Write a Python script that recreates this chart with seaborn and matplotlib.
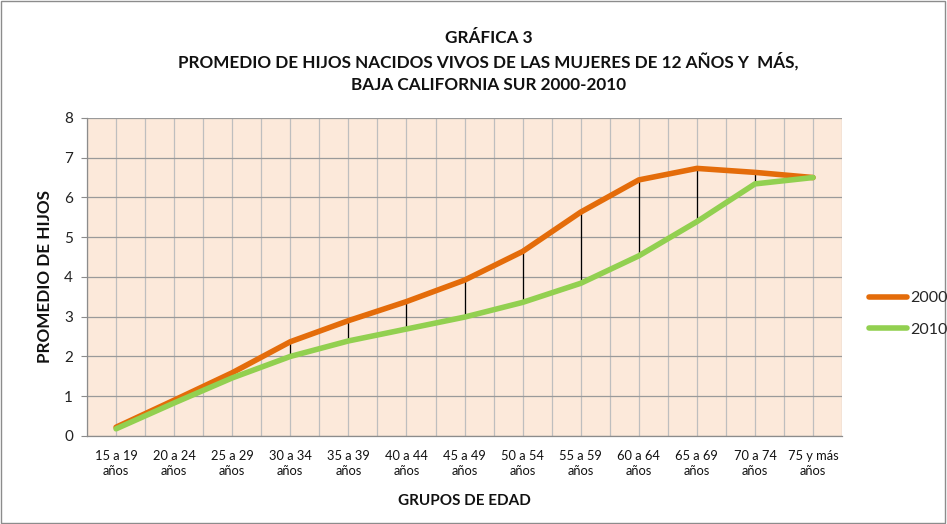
import numpy as np
import pandas as pd
import matplotlib
matplotlib.use("Agg")
import matplotlib.pyplot as plt
import seaborn as sns
from matplotlib.patches import Rectangle
from matplotlib.lines import Line2D

categories = ["15 a 19\naños", "20 a 24\naños", "25 a 29\naños", "30 a 34\naños",
              "35 a 39\naños", "40 a 44\naños", "45 a 49\naños", "50 a 54\naños",
              "55 a 59\naños", "60 a 64\naños", "65 a 69\naños", "70 a 74\naños",
              "75 y más\naños"]
serie_2000 = [0.22, 0.90, 1.59, 2.37, 2.90, 3.38, 3.92, 4.64, 5.63, 6.44, 6.73, 6.63, 6.50]
serie_2010 = [0.18, 0.83, 1.46, 2.00, 2.39, 2.69, 2.99, 3.36, 3.84, 4.53, 5.39, 6.34, 6.50]
series_names = ["2000", "2010"]
y_ticks = [0, 1, 2, 3, 4, 5, 6, 7, 8]

sns.set_theme(style="white")
plt.rcParams['font.family'] = ['Lato', 'DejaVu Sans']

x = np.arange(len(categories))
df = pd.DataFrame({
    "x": np.concatenate([x, x]),
    "valor": serie_2000 + serie_2010,
    "serie": [series_names[0]] * len(x) + [series_names[1]] * len(x),
})

fig = plt.figure(figsize=(9.47, 5.24), dpi=100)
fig.patches.append(Rectangle((0.001, 0.001), 0.997, 0.997, transform=fig.transFigure,
                             fill=False, edgecolor="#8C8C8C", linewidth=1.0))
ax = fig.add_axes([0.0919, 0.168, 0.7973, 0.607])
ax.set_facecolor("#FCE9DA")

# gridlines
for v in np.arange(-0.5, len(categories), 0.5):
    ax.axvline(v, color="#BEBEBE", lw=0.9, zorder=0)
for yv in y_ticks:
    ax.axhline(yv, color="#9A9A9A", lw=0.9, zorder=0)

# high-low lines
ax.vlines(x, serie_2010, serie_2000, color="black", lw=0.9, zorder=1)

sns.lineplot(data=df, x="x", y="valor", hue="serie", ax=ax,
             palette={"2000": "#E46C0A", "2010": "#92D050"},
             linewidth=4.0, legend=False, zorder=2, solid_capstyle="round")

ax.set_xlim(-0.5, len(categories) - 0.5)
ax.set_ylim(0, 8)
ax.set_yticks(y_ticks)
ax.set_yticklabels([str(v) for v in y_ticks], fontsize=11, color="#222222")
ax.set_xticks(x)
ax.set_xticklabels(categories, fontsize=9.3, color="#111111", linespacing=1.3)
ax.tick_params(axis="x", length=0, pad=10)
ax.tick_params(axis="y", length=4, width=0.8, color="#8C8C8C", direction="out", left=True, pad=6)
for s in ["top", "right"]:
    ax.spines[s].set_visible(False)
for s in ["left", "bottom"]:
    ax.spines[s].set_color("#8C8C8C")
    ax.spines[s].set_linewidth(0.9)

ax.set_xlabel("GRUPOS DE EDAD", fontsize=11, fontweight="bold", color="#111111", labelpad=12)
ax.set_ylabel("PROMEDIO DE HIJOS", fontsize=12.3, fontweight="bold", color="#111111",
              va="center")
ax.yaxis.set_label_coords(-0.056, 0.5)

fig.text(0.516, 0.927, "GRÁFICA 3", ha="center", va="center", fontsize=12.3, fontweight="bold", color="#111111")
fig.text(0.516, 0.883, "PROMEDIO DE HIJOS NACIDOS VIVOS DE LAS MUJERES DE 12 AÑOS Y  MÁS,",
         ha="center", va="center", fontsize=12.3, fontweight="bold", color="#111111")
fig.text(0.516, 0.837, "BAJA CALIFORNIA SUR 2000-2010", ha="center", va="center",
         fontsize=12.3, fontweight="bold", color="#111111")

# legend
handles = [Line2D([0], [0], color="#E46C0A", lw=4.0, solid_capstyle="round"),
           Line2D([0], [0], color="#92D050", lw=4.0, solid_capstyle="round")]
fig.legend(handles, series_names, loc="center left", bbox_to_anchor=(0.911, 0.401),
           frameon=False, fontsize=11.5, handlelength=2.4, handletextpad=0.15,
           labelspacing=1.1, borderaxespad=0)

fig.savefig("out.png", dpi=100)
